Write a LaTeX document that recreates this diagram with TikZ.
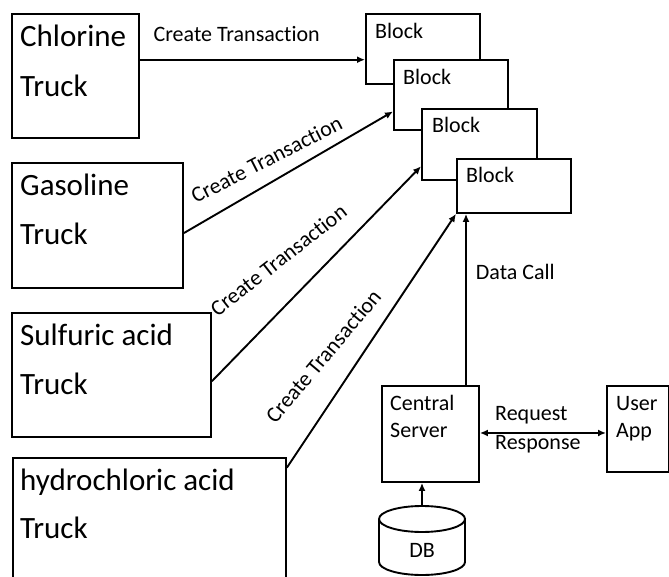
\documentclass[tikz,border=0pt]{standalone}
\usepackage{fontspec}
\setmainfont{Carlito}[Ligatures=NoCommon]
\usetikzlibrary{arrows.meta,calc}

\begin{document}
\begin{tikzpicture}[x=1pt,y=-1pt,
  box/.style={draw, line width=1.9pt, fill=white, inner sep=0pt, anchor=north west},
  big/.style={font=\fontsize{31}{37}\selectfont, anchor=base west, inner sep=0pt},
  small/.style={font=\fontsize{22}{26}\selectfont, inner sep=0pt},
  lbl/.style={small, anchor=base west},
  tx/.style={small, anchor=base},
  arr/.style={line width=1.9pt, -{Latex[length=8pt,width=7pt]}},
  arrboth/.style={line width=1.9pt, {Latex[length=8pt,width=7pt]}-{Latex[length=8pt,width=7pt]}},
  ]
\useasboundingbox (0,0) rectangle (669,577);
\clip (0,0) rectangle (669,577);

% trucks
\node[box, minimum width=127pt, minimum height=124pt] (chl) at (11,13) {};
\node[big] at (20,47) {Chlorine};
\node[big] at (20,97) {Truck};

\node[box, minimum width=171pt, minimum height=125pt] (gas) at (11,162) {};
\node[big] at (20,196) {Gasoline};
\node[big] at (20,245) {Truck};

\node[box, minimum width=199pt, minimum height=124pt] (sul) at (11,312) {};
\node[big] at (20,345) {Sulfuric acid};
\node[big] at (20,394) {Truck};

\node[box, minimum width=273pt, minimum height=150pt] (hyd) at (12,457) {};
\node[big] at (20,490) {hydrochloric acid};
\node[big] at (20,538) {Truck};

% chain of blocks, each drawn over the previous one
\node[box, minimum width=114pt, minimum height=70pt] (b1) at (365,13) {};
\node[lbl] at (375,39) {Block};
\node[box, minimum width=114pt, minimum height=70pt] (b2) at (393,59) {};
\node[lbl] at (403,85) {Block};
\node[box, minimum width=115pt, minimum height=71pt] (b3) at (421,108) {};
\node[lbl] at (432,133) {Block};
\node[box, minimum width=114pt, minimum height=54pt] (b4) at (456,158) {};
\node[lbl] at (466,183) {Block};

% server side
\node[box, minimum width=97pt, minimum height=96pt] (cs) at (381,385) {};
\node[lbl] at (390,410) {Central};
\node[lbl] at (390,437) {Server};

\node[box, minimum width=62pt, minimum height=86pt] (ua) at (606,385) {};
\node[lbl] at (616,410) {User};
\node[lbl] at (616,437) {App};

% database cylinder
\coordinate (dbtop) at (422,506);
\draw[line width=1.9pt, fill=white] (379,519) -- (379,562)
  arc[start angle=180, end angle=0, x radius=43, y radius=13] -- (465,519);
\draw[line width=1.9pt] (422,519) ellipse [x radius=43, y radius=13];
\node[small] (db) at (422,550) {DB};

% transactions
\coordinate (s1) at ($(chl.north east)!0.371!(chl.south east)$);
\draw[arr] (s1) -- (s1 -| b1.west)
  node[pos=0.43, above=17pt, small] {Create Transaction};

\coordinate (s2) at ($(gas.north east)!0.56!(gas.south east)$);
\coordinate (e2) at ($(b2.north west)!0.73!(b2.south west)$);
\draw[arr] (s2) -- (e2)
  node[tx, rotate=27] at (270,166) {Create Transaction};

\coordinate (s3) at ($(sul.north east)!0.55!(sul.south east)$);
\coordinate (e3) at ($(b3.north west)!0.80!(b3.south west)$);
\draw[arr] (s3) -- (e3)
  node[tx, rotate=38] at (283,266) {Create Transaction};

\coordinate (s4) at ($(hyd.north east)!0.07!(hyd.south east)$);
\draw[arr] (s4) -- (b4.south west)
  node[tx, rotate=50] at (329,361) {Create Transaction};

% server links
\coordinate (dc) at ($(b4.south west)+(10,0)$);
\draw[arr] (cs.north -| dc) -- (dc)
  node[pos=0.66, right=9pt, small] {Data Call};

\coordinate (rr) at ($(cs.north east)!0.49!(cs.south east)$);
\draw[arrboth] (rr) -- (rr -| ua.west);
\node[lbl] (req) at (495,420) {Request};
\node[lbl] (resp) at (495,449) {Response};

\draw[arr] (dbtop) -- (dbtop |- cs.south);
\end{tikzpicture}
\end{document}
